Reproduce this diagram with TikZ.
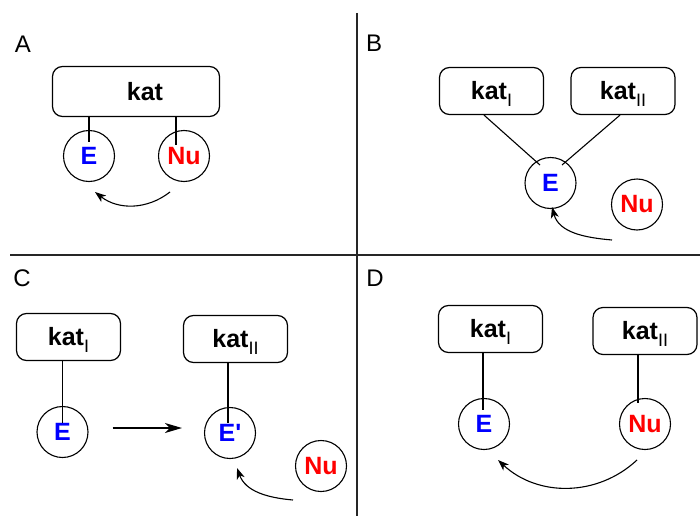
\documentclass[tikz,border=0pt]{standalone}
\usepackage{fontspec}
\setmainfont{Liberation Sans}
\usetikzlibrary{arrows.meta,calc}

\definecolor{eblue}{RGB}{0,0,255}
\definecolor{nured}{RGB}{255,0,0}
\definecolor{sepgray}{RGB}{38,38,38}

% lowered roman-numeral index after "kat"
\newcommand{\katsub}[1]{\smash{\raisebox{-7pt}{\fontsize{18}{18}\selectfont\mdseries #1}}}

\begin{document}
\begin{tikzpicture}[x=1pt,y=-1pt,
  box/.style={draw, rounded corners=10pt, line width=1.2pt,
    minimum width=104pt, minimum height=47pt, inner sep=0pt,
    font=\fontsize{25}{25}\selectfont\bfseries},
  atom/.style={draw, circle, line width=1.1pt, minimum size=51pt, inner sep=0pt,
    font=\fontsize{25}{25}\selectfont\bfseries},
  elec/.style={atom, text=eblue},
  nuc/.style={atom, text=nured},
  link/.style={line width=1.1pt},
  curvearrow/.style={line width=1.1pt, -{Stealth[length=11pt,width=8pt,inset=3pt]}},
  straightarrow/.style={line width=1.4pt, -{Stealth[length=17pt,width=10pt,inset=5pt]}},
  panel/.style={font=\fontsize{24}{24}\selectfont},
  divider/.style={draw=sepgray, line width=1.6pt}]

\useasboundingbox (0,0) rectangle (700,516);

% quadrant dividers
\draw[divider] (357,13) -- (357,516);
\draw[divider] (10,255) -- (700,255);

% ---- A: one catalyst holds both partners
\node[panel] (labA) at (23,44) {A};
\node[box, minimum width=167pt, minimum height=50pt] (katA) at (136,91.5) {\hspace*{18pt}kat};
\node[elec] (EA) at (89,156) {E};
\node[nuc] (NuA) at (184,156) {Nu};
\draw[link] (katA.south -| EA.center) -- ($(EA.center)+(0,-14)$);
\draw[link] ($(NuA.center |- katA.south)+(-8,0)$) -- ($(NuA.center)+(-8,-11)$);
\coordinate (aA) at (170,192);
\coordinate (bA) at (95,192);
\draw[curvearrow] (aA) to[bend left=38] (bA);

% ---- B: two catalysts on the electrophile
\node[panel] (labB) at (374,43) {B};
\node[box] (katBI) at (491.5,91) {kat\katsub{I}};
\node[box] (katBII) at (623,91) {kat\katsub{II}};
\node[elec] (EB) at (550.5,183) {E};
\node[nuc] (NuB) at (637,204.5) {Nu};
\draw[link] ($(katBI.south)+(-7.5,0)$) -- ($(EB.center)+(-10.5,-18)$);
\draw[link] ($(katBII.south)+(-3,0)$) -- ($(EB.center)+(11.5,-18)$);
\coordinate (aB) at (612,240);
\coordinate (bB) at (552,207);
\draw[curvearrow] (aB) to[out=175,in=-75] (bB);

% ---- C: sequential activation
\node[panel] (labC) at (22,278) {C};
\node[box] (katCI) at (68.5,337) {kat\katsub{I}};
\node[elec] (EC) at (62.5,432) {E};
\node[box] (katCII) at (235.5,339) {kat\katsub{II}};
\node[elec] (ECp) at (230,433) {E\textquotesingle};
\draw[link] (katCI.south -| EC.center) -- ($(EC.center)+(0,-9)$);
\draw[link] ($(ECp.center |- katCII.south)+(-2,0)$) -- ($(ECp.center)+(-2,-10)$);
\draw[straightarrow] ($(EC.east)+(24,-4)$) -- ($(ECp.west)+(-22,-5)$);
\node[nuc] (NuC) at (321,466) {Nu};
\coordinate (aC) at (293,500);
\coordinate (bC) at (237,468);
\draw[curvearrow] (aC) to[out=175,in=-70] (bC);

% ---- D: each catalyst activates one partner
\node[panel] (labD) at (375,278) {D};
\node[box] (katDI) at (490.5,329) {kat\katsub{I}};
\node[elec] (ED) at (484,424) {E};
\node[box] (katDII) at (645,331) {kat\katsub{II}};
\node[nuc] (NuD) at (645,424) {Nu};
\draw[link] ($(ED.center |- katDI.south)+(-1,0)$) -- ($(ED.center)+(-1,-14)$);
\draw[link] ($(NuD.center |- katDII.south)+(-7,0)$) -- ($(NuD.center)+(-7,-21)$);
\coordinate (aD) at (637,460);
\coordinate (bD) at (498,460);
\draw[curvearrow] (aD) to[bend left=43] (bD);
\end{tikzpicture}
\end{document}
